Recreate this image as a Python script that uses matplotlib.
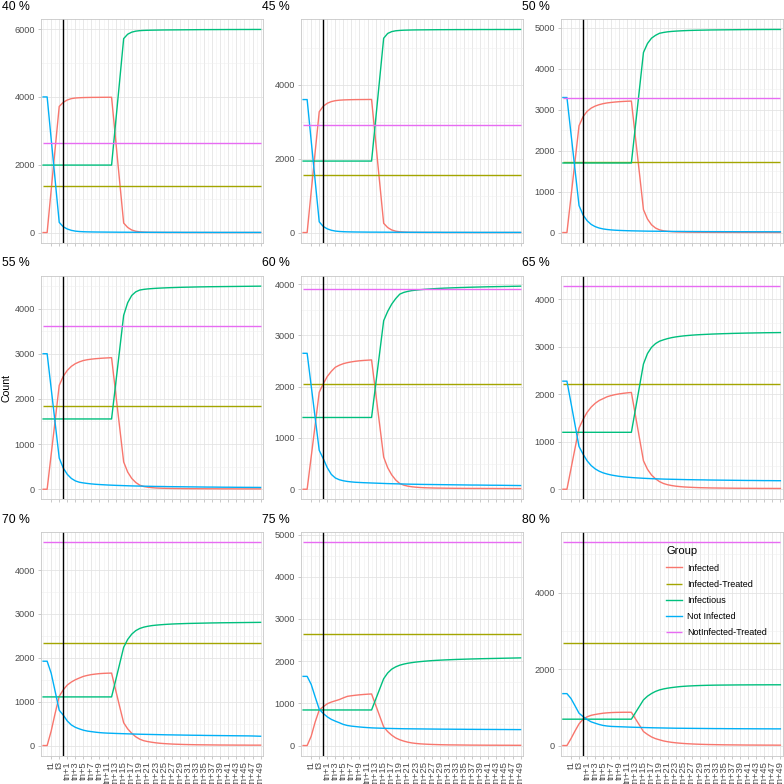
import matplotlib
matplotlib.use("Agg")
import matplotlib.pyplot as plt
import numpy as np

plt.rcParams['font.family'] = ['Liberation Sans', 'DejaVu Sans']

# ---------------- data ----------------
categories = ["t-1", "t0", "t1", "t2", "t3", "tn"] + ["tn+%d" % i for i in range(1, 50)]
vline_cat = "tn"
panel_titles = ["40 %", "45 %", "50 %", "55 %", "60 %", "65 %", "70 %", "75 %", "80 %"]
groups = ["Infected", "Infected-Treated", "Infectious", "Not Infected", "NotInfected-Treated"]

infected_treated = [1365, 1558, 1720, 1844, 2056, 2215, 2340, 2643, 2672]
notinfected_treated = [2640, 2913, 3290, 3606, 3897, 4280, 4631, 4812, 5308]

yticks = [[0, 2000, 4000, 6000], [0, 2000, 4000], [0, 1000, 2000, 3000, 4000, 5000],
          [0, 1000, 2000, 3000, 4000], [0, 1000, 2000, 3000, 4000], [0, 1000, 2000, 3000, 4000],
          [0, 1000, 2000, 3000, 4000], [0, 1000, 2000, 3000, 4000, 5000], [0, 2000, 4000]]

inf40 = [0,0,1250,2490,3720,3840,3910,3950,3968,3976,3981,3984,3986,3987,3988,3989,3990,3990,
         2750,1510,280,150,75,38,20,12,8,6,5,4,4,3,3,3,2,2,2,2,2,1,1,1,1,1,1,1,1,1,1,1,1,1,1,1,1]
not40 = [4000,4000,2760,1530,300,170,105,65,42,30,24,20,18,16,15,14,13,12,
         11,10,10,9,9,8,8,8,7,7,7,7,6,6,6,6,6,5,5,5,5,5,5,5,4,4,4,4,4,4,4,4,4,4,4,4,4]
fec40 = [1990,1990,1990,1990,1990,1990,1990,1990,1990,1990,1990,1990,1990,1990,1990,1990,1990,1990,
         3230,4470,5720,5850,5910,5940,5955,5962,5966,5969,5971,5973,5975,5976,5977,5978,5979,
         5980,5981,5982,5983,5984,5985,5985,5986,5986,5987,5987,5988,5988,5988,5989,5989,5989,5990,5990,5990]

inf45 = [0,0,1100,2190,3270,3420,3500,3545,3570,3583,3590,3594,3597,3599,3600,3601,3602,3603,
         2480,1360,250,135,70,36,20,12,8,6,5,4,4,3,3,3,2,2,2,2,2,2,1,1,1,1,1,1,1,1,1,1,1,1,1,1,1]
not45 = [3600,3600,2490,1390,290,165,100,62,40,29,23,19,17,15,14,13,12,11,
         11,10,10,9,9,8,8,8,7,7,7,7,6,6,6,6,6,5,5,5,5,5,5,5,4,4,4,4,4,4,4,4,4,4,4,4,4]
fec45 = [1935,1935,1935,1935,1935,1935,1935,1935,1935,1935,1935,1935,1935,1935,1935,1935,1935,1935,
         3040,4150,5260,5390,5440,5462,5472,5478,5481,5484,5486,5487,5488,5489,5490,5491,5492,
         5492,5493,5493,5494,5494,5494,5495,5495,5495,5496,5496,5496,5496,5497,5497,5497,5497,5497,5498,5498]

inf50 = [0,0,870,1740,2610,2830,2960,3040,3090,3125,3150,3168,3180,3190,3198,3204,3209,3213,
         2330,1450,560,330,190,110,65,42,30,22,17,14,12,10,9,8,7,6,6,5,5,5,4,4,4,4,3,3,3,3,3,3,3,3,2,2,2]
not50 = [3300,3300,2420,1540,660,430,290,200,145,110,88,74,64,57,52,48,45,42,
         40,38,36,34,33,32,31,30,29,28,27,27,26,25,25,24,24,23,23,22,22,22,21,21,21,20,20,20,20,19,19,19,19,19,18,18,18]
fec50 = [1700,1700,1700,1700,1700,1700,1700,1700,1700,1700,1700,1700,1700,1700,1700,1700,1700,1700,
         2600,3500,4400,4620,4750,4820,4870,4890,4905,4915,4922,4928,4933,4937,4940,4943,4945,
         4947,4949,4951,4952,4953,4954,4955,4956,4957,4958,4959,4960,4960,4961,4961,4962,4962,4963,4963,4963]

inf55 = [0,0,770,1530,2300,2500,2630,2720,2780,2820,2850,2868,2880,2890,2897,2903,2908,2913,
         2143,1374,605,380,240,150,90,60,45,35,28,24,21,19,17,16,15,14,13,12,12,11,11,10,10,10,9,9,9,9,8,8,8,8,8,8,8]
not55 = [3000,3000,2230,1460,690,470,330,240,185,155,140,128,118,110,104,99,94,90,
         86,83,80,77,74,72,70,68,66,64,62,61,60,58,57,56,55,54,53,52,51,50,49,48,48,47,46,45,45,44,43,43,42,42,41,41,40]
fec55 = [1556,1556,1556,1556,1556,1556,1556,1556,1556,1556,1556,1556,1556,1556,1556,1556,1556,1556,
         2320,3085,3850,4130,4290,4370,4410,4425,4435,4442,4448,4453,4457,4461,4464,4467,4470,
         4472,4474,4476,4478,4480,4481,4483,4484,4485,4486,4487,4488,4489,4490,4491,4492,4493,4494,4495,4496]

inf60 = [0,0,630,1260,1893,2056,2200,2300,2380,2420,2450,2470,2485,2497,2506,2513,2518,2523,
         1890,1260,628,420,280,180,111,80,60,48,40,34,30,27,25,23,22,21,20,19,18,18,17,17,16,16,16,15,15,15,14,14,14,14,13,13,13]
not60 = [2652,2652,2020,1390,759,597,420,290,220,185,165,152,143,136,132,128,125,122,
         119,116,113,110,108,106,104,102,100,98,97,95,94,93,92,91,90,89,88,87,86,85,84,83,82,82,81,80,79,78,78,77,76,75,74,73,72]
fec60 = [1400,1400,1400,1400,1400,1400,1400,1400,1400,1400,1400,1400,1400,1400,1400,1400,1400,1400,
         2030,2660,3288,3470,3612,3720,3806,3840,3860,3875,3884,3892,3899,3905,3910,3915,3919,
         3923,3926,3929,3932,3935,3937,3940,3942,3944,3946,3948,3950,3951,3953,3954,3956,3957,3959,3960,3962]

inf65 = [0,0,430,860,1290,1470,1620,1730,1810,1870,1910,1950,1975,1995,2010,2022,2032,2040,
         1560,1080,600,420,300,220,160,120,95,78,65,56,49,44,40,36,33,31,29,27,26,25,24,23,22,21,21,20,20,19,19,18,18,18,17,17,17]
not65 = [2278,2278,1820,1360,900,740,600,500,430,380,345,320,300,285,272,262,254,247,
         241,236,231,227,223,220,217,214,212,210,208,206,204,202,201,199,198,197,195,194,193,192,191,190,189,188,187,186,185,185,184,183,182,182,181,180,180]
fec65 = [1200,1200,1200,1200,1200,1200,1200,1200,1200,1200,1200,1200,1200,1200,1200,1200,1200,1200,
         1680,2160,2640,2860,2990,3070,3120,3150,3175,3195,3210,3222,3232,3240,3247,3253,3258,
         3262,3266,3270,3273,3276,3279,3281,3284,3286,3288,3290,3292,3293,3295,3296,3298,3299,3300,3301,3302]

inf70 = [0,0,330,740,1124,1270,1380,1448,1500,1540,1577,1600,1618,1630,1640,1646,1650,1652,
         1270,890,520,380,280,200,145,110,90,75,62,52,45,39,34,30,27,24,22,20,18,17,16,15,14,13,12,12,11,11,10,10,10,9,9,9,9]
not70 = [1923,1923,1650,1230,805,694,560,470,416,380,350,330,317,305,295,288,283,280,
         276,273,270,267,264,261,258,256,254,252,250,248,246,244,243,241,240,238,237,235,234,233,231,230,229,228,227,226,225,224,223,222,221,220,218,215,212]
fec70 = [1109,1109,1109,1109,1109,1109,1109,1109,1109,1109,1109,1109,1109,1109,1109,1109,1109,1109,
         1480,1860,2240,2420,2540,2620,2670,2700,2720,2735,2745,2753,2760,2766,2771,2775,2778,
         2781,2784,2786,2788,2790,2792,2794,2796,2797,2799,2800,2801,2802,2803,2804,2805,2806,2807,2808,2809]

inf75 = [0,0,220,560,840,920,990,1030,1060,1090,1130,1166,1180,1192,1202,1210,1217,1222,
         962,702,443,330,245,180,137,105,80,62,50,41,35,30,26,23,20,18,16,15,14,13,12,11,10,10,9,9,8,8,8,7,7,7,6,6,6]
not75 = [1639,1639,1450,1150,860,760,680,620,578,540,500,475,460,450,440,432,425,419,
         415,412,409,406,404,402,400,398,397,396,395,394,393,392,391,390,389,388,388,387,386,386,385,384,384,383,383,382,382,381,381,380,380,379,379,378,378]
fec75 = [843,843,843,843,843,843,843,843,843,843,843,843,843,843,843,843,843,843,
         1090,1337,1583,1720,1810,1865,1904,1930,1950,1965,1978,1988,1997,2005,2012,2018,2023,
         2028,2032,2036,2040,2043,2046,2049,2052,2054,2057,2059,2061,2063,2065,2067,2069,2071,2073,2075,2077]

inf80 = [0,0,180,380,566,689,750,790,812,830,845,855,862,866,868,870,870,870,
         702,534,366,290,225,180,149,120,100,84,72,62,54,47,42,37,33,30,27,25,23,21,19,18,17,16,15,14,13,13,12,12,11,11,11,10,10]
not80 = [1357,1357,1230,1040,845,757,680,620,584,550,525,510,500,496,492,488,484,480,
         477,474,471,468,465,463,461,459,457,455,453,452,451,450,449,448,447,446,445,444,443,443,442,441,441,440,440,439,439,438,438,437,437,437,436,436,436]
fec80 = [689,689,689,689,689,689,689,689,689,689,689,689,689,689,689,689,689,689,
         857,1025,1193,1290,1360,1415,1454,1480,1500,1515,1528,1540,1548,1555,1560,1565,1569,
         1572,1575,1577,1579,1580,1581,1582,1583,1584,1585,1585,1586,1586,1587,1587,1587,1588,1588,1588,1588]

infected = [inf40, inf45, inf50, inf55, inf60, inf65, inf70, inf75, inf80]
not_infected = [not40, not45, not50, not55, not60, not65, not70, not75, not80]
infectious = [fec40, fec45, fec50, fec55, fec60, fec65, fec70, fec75, fec80]

colors = {"Infected": "#F8766D", "Infected-Treated": "#A3A500", "Infectious": "#00BF7D",
          "Not Infected": "#00B0F6", "NotInfected-Treated": "#E76BF3"}

# ---------------- layout ----------------
W = H = 784
fig = plt.figure(figsize=(W / 100, H / 100), dpi=100)
col_left = [40.7, 300.7, 560.5]
row_top = [19.3, 276.0, 532.3]
pw, ph = 222.3, 223.4
n = len(categories)
x = np.arange(n)
vx = categories.index(vline_cat)
lw = 1.0

for k, title in enumerate(panel_titles):
    r, c = divmod(k, 3)
    ax = fig.add_axes([col_left[c] / W, 1 - (row_top[r] + ph) / H, pw / W, ph / H])
    assert len(infected[k]) == n and len(not_infected[k]) == n and len(infectious[k]) == n
    h1, = ax.plot(x, infected[k], color=colors["Infected"], lw=lw)
    h2 = ax.hlines(infected_treated[k], x[0], x[-1], color=colors["Infected-Treated"], lw=lw)
    h3, = ax.plot(x, infectious[k], color=colors["Infectious"], lw=lw)
    h4, = ax.plot(x, not_infected[k], color=colors["Not Infected"], lw=lw)
    h5 = ax.hlines(notinfected_treated[k], x[0], x[-1], color=colors["NotInfected-Treated"], lw=lw)
    ax.axvline(vx, color="black", lw=1.0)
    allv = infected[k] + not_infected[k] + infectious[k] + [infected_treated[k], notinfected_treated[k]]
    lo, hi = min(allv), max(allv)
    pad = 0.05 * (hi - lo)
    yt = yticks[k]
    step = yt[1] - yt[0]
    ax.set_yticks(yt)
    ax.set_yticklabels([str(v) for v in yt])
    ax.set_yticks([v + step / 2 for v in yt], minor=True)
    ax.set_xticks(x[2::2])
    ax.set_xticks(x[3::2].tolist() + [0, 1], minor=True)
    ax.set_xlim(-0.6, n - 1 + 0.6)
    ax.set_ylim(lo - pad, hi + pad)
    if r == 2:
        ax.set_xticklabels(categories[2::2], rotation=90, fontsize=6.8, color="#4D4D4D")
    else:
        ax.set_xticklabels([])
    ax.tick_params(axis="y", which="major", labelsize=6.6, labelcolor="#4D4D4D",
                   length=2.2, width=0.5, color="#B3B3B3", pad=1.8)
    ax.tick_params(axis="x", which="major", length=2.2, width=0.5, color="#B3B3B3", pad=1.8)
    ax.tick_params(which="minor", length=0)
    ax.grid(which="major", color="#E2E2E2", lw=0.55)
    ax.grid(which="minor", color="#EFEFEF", lw=0.4)
    ax.set_axisbelow(True)
    for s in ax.spines.values():
        s.set_color("#C8C8C8")
        s.set_linewidth(0.6)
    fig.text((col_left[c] - 38.7) / W, 1 - (row_top[r] - 12.5) / H, title,
             fontsize=8.8, ha="left", va="center", color="black")
    if k == 3:
        fig.text(6 / W, 1 - 388 / H, "Count", rotation=90, fontsize=7.6,
                 ha="center", va="center")
    if k == 8:
        leg = ax.legend([h1, h2, h3, h4, h5], groups, title="Group",
                        loc="upper left", bbox_to_anchor=(660 / W, 1 - 540 / H),
                        bbox_transform=fig.transFigure, frameon=False,
                        fontsize=6.5, title_fontsize=8.0, handlelength=1.7,
                        handletextpad=0.6, labelspacing=0.8, borderpad=0.2)
        leg._legend_box.align = "left"

fig.savefig("out.png", dpi=100)
